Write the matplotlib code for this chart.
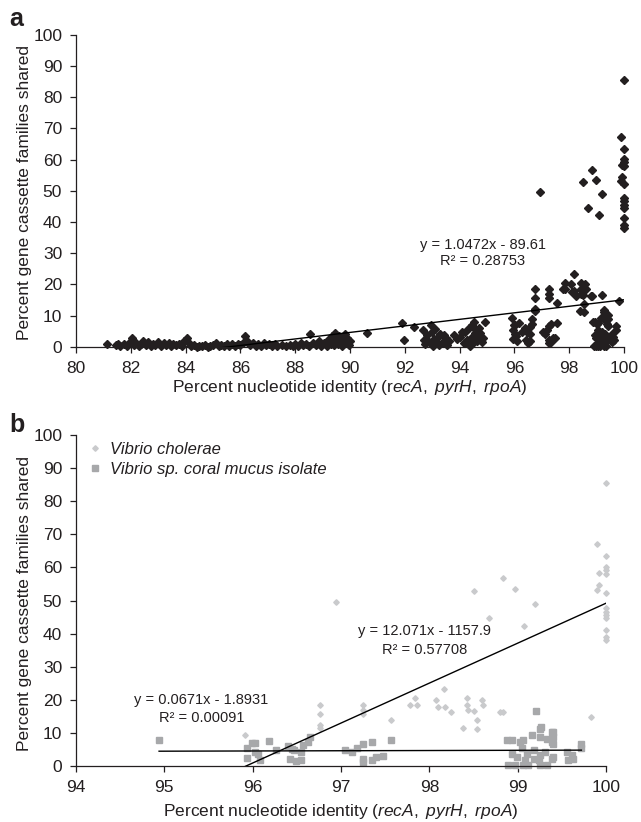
import matplotlib
matplotlib.use('Agg')
import matplotlib.pyplot as plt
import numpy as np

plt.rcParams['font.family'] = ['Liberation Sans', 'DejaVu Sans']
plt.rcParams['mathtext.fontset'] = 'custom'
plt.rcParams['mathtext.rm'] = 'Liberation Sans'
plt.rcParams['mathtext.it'] = 'Liberation Sans:italic'
plt.rcParams['mathtext.bf'] = 'Liberation Sans:bold'

INK = '#231f20'

# ---- panel b data: Vibrio cholerae pairs (diamonds)
vc_x = [95.91, 96.76, 96.76, 96.76, 96.76, 96.94, 97.25, 97.25, 97.25, 97.57,
        97.78, 97.84, 97.86, 98.08, 98.10, 98.17, 98.18, 98.24, 98.38,
        98.42, 98.42, 98.44, 98.51, 98.51, 98.54, 98.54, 98.59, 98.61,
        98.67, 98.80, 98.83, 98.83, 98.97, 99.07, 99.19, 99.83, 99.90,
        99.90, 99.92, 99.92, 100.0, 100.0, 100.0, 100.0, 100.0, 100.0,
        100.0, 100.0, 100.0, 100.0, 100.0, 100.0, 100.0]
vc_y = [9.4, 18.4, 15.8, 12.3, 11.5, 49.7, 18.4, 16.8, 15.8, 14.0,
        18.4, 20.4, 18.4, 20.0, 17.7, 23.2, 17.8, 16.3, 11.6,
        20.4, 18.4, 16.8, 16.6, 52.8, 13.8, 11.3, 20.0, 18.4,
        44.6, 16.3, 16.3, 56.7, 53.6, 42.4, 48.9, 14.8, 67.2,
        53.3, 58.3, 54.6, 85.6, 63.3, 60.1, 59.1, 58.1, 52.3,
        47.6, 46.6, 45.6, 44.6, 41.2, 39.0, 38.2]

# ---- panel b data: Vibrio sp. coral mucus isolate pairs (squares)
cm_x = [94.94, 95.94, 95.94, 95.99, 96.03, 96.03, 96.06, 96.08, 96.18, 96.26,
        96.40, 96.44, 96.47, 96.42, 96.49, 96.55, 96.55, 96.57, 96.63, 96.65,
        97.04, 97.12, 97.18, 97.25, 97.35, 97.25, 97.25, 97.35, 97.40, 97.48,
        97.57, 98.88, 98.93, 99.03, 99.06, 99.16, 99.25, 99.25, 99.33, 99.39,
        99.39, 99.21, 99.26, 99.40, 99.40, 99.40, 98.93, 98.99, 99.05, 99.10,
        99.18, 99.25, 99.31, 99.39, 99.40, 98.89, 98.97, 99.06, 99.12, 99.25,
        99.33, 99.08, 99.18, 99.24, 99.56, 99.61, 99.63, 99.57, 99.72, 99.72]
cm_y = [8.0, 5.4, 2.5, 7.0, 7.0, 4.2, 3.5, 1.9, 7.6, 4.7,
        6.0, 5.0, 4.7, 2.2, 1.4, 1.9, 4.2, 6.3, 7.3, 8.8,
        4.7, 4.2, 5.3, 6.6, 7.3, 2.2, 1.2, 1.7, 2.7, 2.9,
        7.8, 8.0, 8.0, 7.3, 7.8, 9.3, 11.3, 8.8, 8.3, 10.3,
        7.3, 16.5, 11.8, 10.3, 8.8, 6.8, 3.7, 2.7, 5.3, 3.7,
        4.7, 3.2, 4.2, 2.2, 2.7, 0.2, 0.2, 0.2, 0.2, 0.2,
        0.2, 1.7, 2.2, 1.7, 4.2, 3.2, 2.2, 1.7, 6.8, 5.3]

# ---- panel a: remaining pairs (below ~95 % identity)
other_x = [81.13, 81.45, 81.55, 81.62, 81.75, 81.85, 81.95, 82.03, 82.10, 82.20,
           82.30, 82.38, 82.45, 82.55, 82.62, 82.72, 82.80, 82.90, 83.00, 83.10,
           83.20, 83.30, 83.38, 83.45, 83.55, 83.65, 83.75, 83.85, 83.95, 84.04,
           84.12, 84.20, 84.30, 84.40, 84.50, 84.60, 84.70, 84.80, 84.90, 85.00,
           85.10, 85.20, 85.30, 85.40, 85.50, 85.60, 85.70, 85.80, 85.90, 86.00,
           86.10, 86.17, 86.25, 86.35, 86.45, 86.55, 86.65, 86.75, 86.85, 86.95,
           87.05, 87.15, 87.25, 87.35, 87.50, 87.65, 87.80, 87.90, 88.00, 88.10,
           88.20, 88.30, 88.40, 88.50, 88.55, 88.65, 88.75, 88.85, 88.95, 89.05,
           89.15, 89.25, 89.30, 89.35, 89.42, 89.45, 89.50, 89.55, 89.60, 89.65,
           89.70, 89.75, 89.80, 89.85, 89.90, 89.95, 90.00, 90.62, 91.90, 91.96,
           92.32, 92.65, 92.70, 92.72, 92.80, 92.88, 92.95, 93.00, 93.02, 93.08,
           93.10, 93.15, 93.20, 93.25, 93.30, 93.35, 93.42, 93.50, 93.55, 93.60,
           93.79, 93.90, 94.03, 94.10, 94.15, 94.21, 94.28, 94.33, 94.38, 94.40,
           94.46, 94.48, 94.52, 94.55, 94.58, 94.62, 94.64, 94.70, 94.76, 94.80,
           94.85]
other_y = [0.9, 0.6, 1.0, 0.3, 0.8, 0.4, 1.1, 2.8, 0.5, 1.3,
           0.4, 1.0, 2.0, 0.6, 1.6, 0.3, 1.0, 0.5, 1.5, 0.4,
           1.1, 0.6, 1.2, 0.3, 0.9, 0.5, 1.0, 0.4, 1.8, 2.7,
           1.2, 0.2, 0.5, 0.1, 0.4, 0.2, 0.6, 0.1, 0.3, 0.7,
           1.3, 0.2, 0.5, 0.3, 0.8, 0.2, 1.0, 0.4, 0.8, 0.5,
           1.4, 3.6, 1.8, 0.6, 1.1, 0.4, 0.9, 0.3, 1.2, 0.5,
           0.9, 0.4, 0.8, 0.2, 0.6, 0.3, 0.7, 0.2, 0.9, 0.4,
           1.2, 0.5, 1.0, 0.3, 4.0, 1.3, 0.6, 2.0, 0.4, 1.1,
           0.3, 2.5, 1.0, 3.6, 0.5, 4.5, 2.0, 0.8, 3.5, 1.5,
           0.3, 2.6, 4.2, 1.2, 3.0, 0.6, 1.8, 4.4, 7.8, 2.1,
           6.4, 5.4, 2.1, 0.8, 3.8, 1.5, 7.0, 4.8, 0.4, 2.6,
           5.8, 1.6, 3.2, 0.6, 4.2, 1.1, 3.8, 2.7, 0.5, 1.8,
           3.8, 2.6, 3.2, 4.8, 1.4, 4.8, 2.2, 5.9, 0.4, 3.0,
           7.0, 1.1, 8.0, 4.4, 5.3, 2.0, 3.2, 6.0, 4.3, 1.5,
           2.8]

all_x = other_x + vc_x + cm_x
all_y = other_y + vc_y + cm_y

# trendline coefficients as printed on the chart
fit_all = (1.0472, -89.61, 0.28753)
fit_vc = (12.071, -1157.9, 0.57708)
fit_cm = (0.0671, -1.8931, 0.00091)


def style_axes(ax):
    for side in ('top', 'right'):
        ax.spines[side].set_visible(False)
    for side in ('left', 'bottom'):
        ax.spines[side].set_color(INK)
        ax.spines[side].set_linewidth(0.9)
    ax.tick_params(direction='out', length=4, width=0.9, color=INK,
                   labelsize=12.5, labelcolor=INK, pad=6)
    ax.set_ylim(0, 100)
    ax.set_yticks(np.arange(0, 101, 10))


def trend(ax, xs, fit, zorder=3):
    lo, hi = min(xs), max(xs)
    xx = np.array([lo, hi])
    ax.plot(xx, fit[0] * xx + fit[1], color='black', lw=1.0, zorder=zorder)


fig = plt.figure(figsize=(6.41, 8.22), dpi=100)

# ---------------- panel a
ax1 = fig.add_axes([0.1186, 0.578, 0.855, 0.3796])
style_axes(ax1)
ax1.plot(all_x, all_y, 'D', ms=4.0, color=INK, mec=INK, clip_on=False, zorder=2)
trend(ax1, all_x, fit_all)
ax1.set_xlim(80, 100)
ax1.set_xticks(np.arange(80, 101, 2))
ax1.text(94.84, 32.8, 'y = 1.0472x - 89.61', ha='center', va='center',
         fontsize=10.5, color=INK)
ax1.text(94.84, 27.4, 'R² = 0.28753', ha='center', va='center',
         fontsize=10.5, color=INK)
ax1.set_xlabel(r'Percent nucleotide identity (r$\mathit{ecA,\ pyrH,\ rpoA}$)',
               fontsize=12.5, color=INK)
ax1.xaxis.set_label_coords(0.5, -0.100)
ax1.set_ylabel('Percent gene cassette families shared', fontsize=12.5, color=INK)
ax1.yaxis.set_label_coords(-0.080, 0.494)
fig.text(0.014, 0.977, 'a', fontsize=18, fontweight='bold', color=INK,
         va='center', ha='left')

# ---------------- panel b
ax2 = fig.add_axes([0.1186, 0.0681, 0.827, 0.4027])
style_axes(ax2)
ax2.plot(cm_x, cm_y, 's', ms=4.6, color='#a7a8aa', mec='#a7a8aa',
         clip_on=False, zorder=2, label='Vibrio sp. coral mucus isolate')
ax2.plot(vc_x, vc_y, 'D', ms=2.8, color='#c9cacc', mec='#c9cacc',
         clip_on=False, zorder=2, label='Vibrio cholerae')
trend(ax2, vc_x, fit_vc)
trend(ax2, cm_x, fit_cm)
ax2.set_xlim(94, 100)
ax2.set_xticks(np.arange(94, 101, 1))
ax2.text(95.42, 19.9, 'y = 0.0671x - 1.8931', ha='center', va='center',
         fontsize=10.5, color=INK)
ax2.text(95.42, 14.5, 'R² = 0.00091', ha='center', va='center',
         fontsize=10.5, color=INK)
ax2.text(97.94, 40.8, 'y = 12.071x - 1157.9', ha='center', va='center',
         fontsize=10.5, color=INK)
ax2.text(97.94, 35.2, 'R² = 0.57708', ha='center', va='center',
         fontsize=10.5, color=INK)
handles, labels = ax2.get_legend_handles_labels()
leg = ax2.legend(handles[::-1], labels[::-1], loc='upper left',
                 bbox_to_anchor=(0.016, 0.99), frameon=False,
                 prop={'style': 'italic', 'size': 12},
                 handlelength=0.8, handletextpad=0.5, labelspacing=0.3,
                 borderaxespad=0.0, borderpad=0.2)
for t in leg.get_texts():
    t.set_color(INK)
ax2.set_xlabel(r'Percent nucleotide identity ($\mathit{recA,\ pyrH,\ rpoA}$)',
               fontsize=12.5, color=INK)
ax2.xaxis.set_label_coords(0.5, -0.110)
ax2.set_ylabel('Percent gene cassette families shared', fontsize=12.5, color=INK)
ax2.yaxis.set_label_coords(-0.083, 0.49)
fig.text(0.014, 0.483, 'b', fontsize=18, fontweight='bold', color=INK,
         va='center', ha='left')

fig.savefig('out.png', dpi=100)
